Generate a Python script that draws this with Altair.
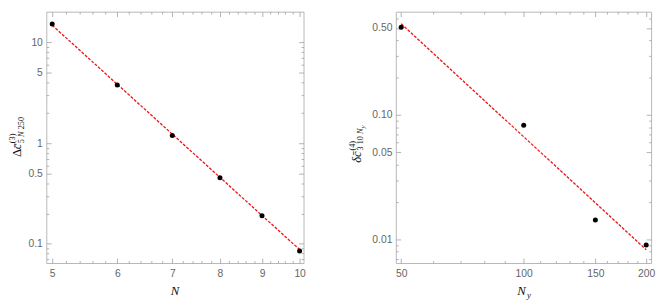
import altair as alt
import pandas as pd

# ---------------- data ----------------
left_n = [5, 6, 7, 8, 9, 10]
left_val = [15.2, 3.77, 1.19, 0.453, 0.19, 0.085]
left_fit_n = [5, 10]
left_fit_val = [14.8, 0.0877]

right_ny = [50, 100, 150, 200]
right_val = [0.506, 0.083, 0.0144, 0.00905]
right_fit_ny = [50, 200]
right_fit_val = [0.54, 0.0083]

# tick values / labels
left_x_major = [5, 6, 7, 8, 9, 10]
left_x_minor = [5.2, 5.4, 5.6, 5.8, 6.2, 6.4, 6.6, 6.8, 7.2, 7.4, 7.6, 7.8,
                8.2, 8.4, 8.6, 8.8, 9.2, 9.4, 9.6, 9.8]
left_y_major = [0.1, 0.5, 1, 5, 10]
left_y_minor = [0.07, 0.08, 0.09, 0.2, 0.3, 0.4, 0.6, 0.7, 0.8, 0.9,
                2, 3, 4, 6, 7, 8, 9]
right_x_major = [50, 100, 150, 200]
right_x_minor = [60, 70, 80, 90, 110, 120, 130, 140, 160, 170, 180, 190]
right_y_major = [0.01, 0.05, 0.1, 0.5]
right_y_minor = [0.007, 0.008, 0.009, 0.02, 0.03, 0.04, 0.06, 0.07, 0.08,
                 0.09, 0.2, 0.3, 0.4, 0.6]

left_domain_x = [4.918, 10.11]
left_domain_y = [0.0645, 20.2]
right_domain_x = [48.5, 205.6]
right_domain_y = [0.00649, 0.676]

# title pieces
L_DELTA = "\u0394"
C_BAR = "c\u0304"
L_SUP = "(3)"
L_SUB = ["5", "N", "250"]
R_DELTA = "\u03b4c\u0304"
R_SUP = "(4)"
R_SUB = ["3", "10", "N", "y"]
X_TITLE = "N"
X_SUBY = "y"

# ---------------- styling ----------------
W1, W2, H = 262, 260, 256
FRAME = "#b8b8b8"
TICK = "#a0a0a0"
LABEL = "#666666"
SANS = "Liberation Sans"
SERIF = "Liberation Serif"


def text_layer(txt, x, y, size, style="normal", angle=270, align="left"):
    return alt.Chart(pd.DataFrame({"t": [txt]})).mark_text(
        text=txt, font=SERIF, fontSize=size, fontStyle=style, angle=angle,
        align=align, baseline="alphabetic", color="#111111"
    ).encode(x=alt.value(x), y=alt.value(y))


def panel(df, fit_df, xdom, ydom, xmaj, xmin, ymaj, ymin, xfmt, yfmt,
          W, texts):
    xs = alt.Scale(type="log", domain=xdom, nice=False)
    ys = alt.Scale(type="log", domain=ydom, nice=False)
    lab = dict(ticks=False, tickSize=0, domain=False, grid=False,
               labelFlush=False, labelOverlap=False, labelFont=SANS,
               labelFontSize=10.5, labelColor=LABEL, title=None)
    pts = alt.Chart(df).mark_circle(size=26, color="black", opacity=1).encode(
        x=alt.X("x:Q", scale=xs, axis=alt.Axis(orient="bottom", values=xmaj,
                format=xfmt, labelPadding=6, **lab)),
        y=alt.Y("y:Q", scale=ys, axis=alt.Axis(orient="left", values=ymaj,
                format=yfmt, labelPadding=4, **lab)),
    )
    fit = alt.Chart(fit_df).mark_line(
        color="#ee1111", strokeDash=[3, 1.5], strokeWidth=1.3
    ).encode(x=alt.X("x:Q", scale=xs, axis=None),
             y=alt.Y("y:Q", scale=ys, axis=None))
    layers = [fit, pts]
    tk = dict(labels=False, domain=False, grid=False, tickColor=TICK,
              tickWidth=0.8, title=None)
    for vals, size in ((xmaj, 5), (xmin, 2.5)):
        for orient in ("top", "bottom"):
            layers.append(alt.Chart(df).mark_point(opacity=0).encode(
                x=alt.X("x:Q", scale=xs, axis=alt.Axis(
                    orient=orient, offset=-H, values=vals, tickSize=size, **tk)),
                y=alt.Y("y:Q", scale=ys, axis=None)))
    for vals, size in ((ymaj, 5), (ymin, 2.5)):
        for orient in ("left", "right"):
            layers.append(alt.Chart(df).mark_point(opacity=0).encode(
                x=alt.X("x:Q", scale=xs, axis=None),
                y=alt.Y("y:Q", scale=ys, axis=alt.Axis(
                    orient=orient, offset=-W, values=vals, tickSize=size, **tk))))
    layers += texts
    return alt.layer(*layers).resolve_axis(
        x="independent", y="independent").properties(width=W, height=H)


left_df = pd.DataFrame({"x": left_n, "y": left_val})
left_fit_df = pd.DataFrame({"x": left_fit_n, "y": left_fit_val})
right_df = pd.DataFrame({"x": right_ny, "y": right_val})
right_fit_df = pd.DataFrame({"x": right_fit_ny, "y": right_fit_val})

# left y-title pieces
ly0 = 134
left_texts = [
    text_layer(L_DELTA, -25.5, 148, 13),
    text_layer(C_BAR, -25.5, 140, 13, "italic"),
    text_layer(L_SUP, -31.5, ly0, 8.5),
    text_layer(L_SUB[0], -23, ly0, 8.5),
    text_layer(L_SUB[1], -23, ly0 - 6.4, 8.5, "italic"),
    text_layer(L_SUB[2], -23, ly0 - 14.2, 8.5),
    text_layer(X_TITLE, W1 / 2, H + 33, 13, "italic", angle=0, align="center"),
]

ry0 = 141.5
right_texts = [
    text_layer(R_DELTA, -35.5, 154, 13, "italic"),
    text_layer(R_SUP, -41.5, ry0, 8.5),
    text_layer(R_SUB[0], -33, ry0, 8.5),
    text_layer(R_SUB[1], -33, ry0 - 6.4, 8.5),
    text_layer(R_SUB[2], -33, ry0 - 17, 8.5, "italic"),
    text_layer(R_SUB[3], -31.5, ry0 - 22.8, 6.5, "italic"),
    text_layer(X_TITLE, W2 / 2 - 2, H + 33, 13, "italic", angle=0, align="center"),
    text_layer(X_SUBY, W2 / 2 + 3.5, H + 36, 9, "italic", angle=0),
]

left = panel(left_df, left_fit_df, left_domain_x, left_domain_y,
             left_x_major, left_x_minor, left_y_major, left_y_minor,
             "d", "~g", W1, left_texts)
right = panel(right_df, right_fit_df, right_domain_x, right_domain_y,
              right_x_major, right_x_minor, right_y_major, right_y_minor,
              "d", ".2f", W2, right_texts)

chart = alt.hconcat(left, right, spacing=42).properties(
    padding={"left": 0, "top": 0, "right": 0, "bottom": 0}
).configure_view(stroke=FRAME, strokeWidth=1)

chart.save("out.html", embed_options={"renderer": "svg", "actions": False})
